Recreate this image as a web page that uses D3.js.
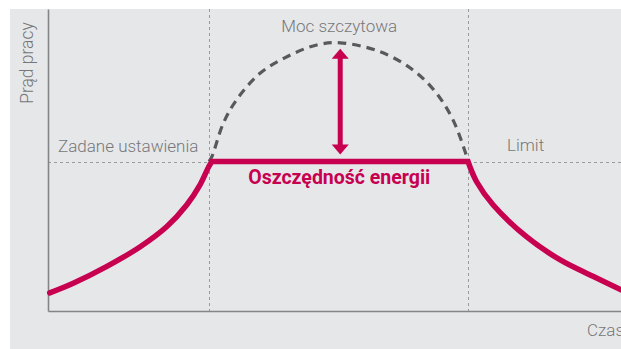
<!DOCTYPE html>
<html>
<head>
<meta charset="utf-8">
<script src="https://cdn.jsdelivr.net/npm/d3@7"></script>
<style>
  html, body { margin: 0; padding: 0; background: #ffffff; }
  svg { display: block; }
  text { font-family: Roboto, "Open Sans", sans-serif; }
</style>
</head>
<body>
<svg id="chart" width="621" height="349"></svg>
<script>
// Time (x) and operating current (y), both in relative units 0–100.
const setpointTime = 28.1;   // start of the limited period
const limitTime = 73.3;      // end of the limited period
const setpointLevel = 49.5;  // current level held by the setting

// Current rising towards the setpoint
const riseTime    = [0.3, 4.4, 10.2, 16.1, 20.7, 24.2, 26.5, 28.0, 28.6];
const riseCurrent = [6.0, 9.2, 14.7, 21.3, 27.9, 35.1, 41.7, 47.6, 49.5];

// Current falling after the limit
const fallTime    = [73.3, 74.8, 77.7, 83.5, 89.4, 95.2, 100];
const fallCurrent = [49.5, 42.8, 35.1, 24.6, 16.9, 11.4, 7.0];

// Unrestricted peak demand (dashed)
const peakTime    = [28.1, 28.6, 30.6, 32.9, 37.0, 41.7, 46.9, 51.0, 57.9, 63.7, 67.8, 70.7, 72.8, 73.3];
const peakCurrent = [49.5, 51.1, 62.2, 69.9, 78.7, 84.2, 88.1, 88.8, 85.9, 79.8, 72.1, 63.2, 52.7, 49.5];

// Saving arrow between setpoint and peak
const arrowTime = 51.0;
const arrowLevels = [setpointLevel, 88.8];

// Labels
const yAxisLabel = "Prąd pracy";
const xAxisLabel = "Czas";
const peakLabel = "Moc szczytowa";
const setpointLabel = "Zadane ustawienia";
const limitLabel = "Limit";
const savingLabel = "Oszczędność energii";

const W = 621, H = 349;
const red = "#c7004f";
const svg = d3.select("#chart");

// Panel background
svg.append("rect").attr("x", 10).attr("y", 9).attr("width", W - 10).attr("height", H - 9)
  .attr("fill", "#e6e7e9");

const x = d3.scaleLinear().domain([0, 100]).range([48, 621]);
const y = d3.scaleLinear().domain([0, 100]).range([311, 9]);

// Reference guides
const guide = svg.append("g").attr("stroke", "#9a9b9d").attr("stroke-width", 1)
  .attr("stroke-dasharray", "3,3").attr("fill", "none");
[setpointTime, limitTime].forEach(t => {
  guide.append("line").attr("x1", Math.round(x(t)) + 0.5).attr("x2", Math.round(x(t)) + 0.5)
    .attr("y1", y(100)).attr("y2", y(0));
});
guide.append("line").attr("x1", x(0)).attr("x2", x(100))
  .attr("y1", Math.round(y(setpointLevel)) + 0.5).attr("y2", Math.round(y(setpointLevel)) + 0.5);

// Axes (domain lines only)
const xAxis = svg.append("g").attr("transform", `translate(0,${y(0)})`)
  .call(d3.axisBottom(x).ticks(0).tickSize(0).tickSizeOuter(0));
const yAxis = svg.append("g").attr("transform", `translate(${x(0)},0)`)
  .call(d3.axisLeft(y).ticks(0).tickSize(0).tickSizeOuter(0));
[xAxis, yAxis].forEach(a => a.select(".domain").attr("stroke", "#848587").attr("stroke-width", 1.6));

// Peak demand curve
const smooth = d3.line().x(d => x(d[0])).y(d => y(d[1])).curve(d3.curveCatmullRom.alpha(0.5));
svg.append("path")
  .attr("d", smooth(d3.zip(peakTime, peakCurrent)))
  .attr("fill", "none").attr("stroke", "#58595b").attr("stroke-width", 3.2)
  .attr("stroke-dasharray", "8.5,6");

// Limited current: rise, hold at setpoint, fall
const risePath = smooth(d3.zip(riseTime, riseCurrent));
const fallPath = smooth(d3.zip(fallTime, fallCurrent)).replace(/^M/, "L");
svg.append("path")
  .attr("d", risePath + fallPath)
  .attr("fill", "none").attr("stroke", red).attr("stroke-width", 5.5)
  .attr("stroke-linejoin", "miter").attr("stroke-linecap", "round");

// Double-headed saving arrow
const ax = x(arrowTime);
const yLow = y(arrowLevels[0]) - 7, yHigh = y(arrowLevels[1]) + 6;
const head = 10, half = 8.5;
const arrow = svg.append("g").attr("fill", red);
arrow.append("line").attr("x1", ax).attr("x2", ax).attr("y1", yHigh + head - 1).attr("y2", yLow - head + 1)
  .attr("stroke", red).attr("stroke-width", 5);
arrow.append("path").attr("d", `M${ax},${yHigh}L${ax + half},${yHigh + head}L${ax - half},${yHigh + head}Z`);
arrow.append("path").attr("d", `M${ax},${yLow}L${ax + half},${yLow - head}L${ax - half},${yLow - head}Z`);

// Text labels
const grey = "#76777a";
svg.append("text").attr("x", ax - 1).attr("y", 32).attr("text-anchor", "middle")
  .attr("font-size", 17).attr("font-weight", 300).attr("fill", grey).text(peakLabel);
svg.append("text").attr("x", 58).attr("y", 151.5)
  .attr("font-size", 17).attr("font-weight", 300).attr("fill", grey).text(setpointLabel);
svg.append("text").attr("x", 507).attr("y", 151)
  .attr("font-size", 17).attr("font-weight", 300).attr("fill", grey).text(limitLabel);
svg.append("text").attr("x", ax - 1).attr("y", 184).attr("text-anchor", "middle")
  .attr("font-size", 19.5).attr("font-weight", 700).attr("fill", red).text(savingLabel);
svg.append("text").attr("transform", "translate(33,63) rotate(-90)").attr("text-anchor", "middle")
  .attr("font-size", 17.5).attr("font-weight", 300).attr("fill", grey).text(yAxisLabel);
svg.append("text").attr("x", 587).attr("y", 336)
  .attr("font-size", 17).attr("font-weight", 300).attr("fill", grey).text(xAxisLabel);
</script>
</body>
</html>
